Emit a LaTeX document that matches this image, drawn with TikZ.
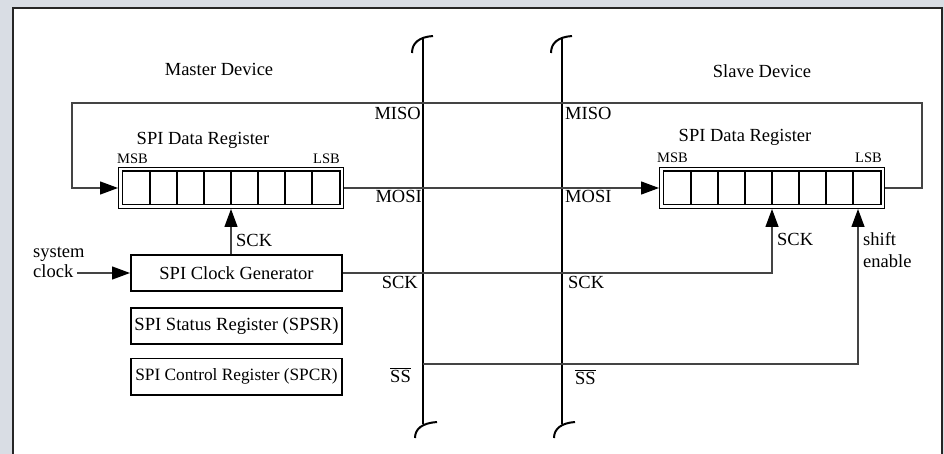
\documentclass[tikz,border=0pt]{standalone}
\usepackage{fontspec}
\setmainfont{Liberation Serif}
\usetikzlibrary{arrows.meta,calc}
\definecolor{bgcol}{HTML}{D9DDE4}
\definecolor{sigcol}{HTML}{444444}
\begin{document}
\begin{tikzpicture}[x=1pt,y=-1pt,
  lbl/.style={inner sep=0pt, font=\fontsize{18.5}{20}\selectfont},
  small/.style={inner sep=0pt, font=\fontsize{14.5}{16}\selectfont},
  box/.style={draw=black, line width=1.6pt, inner sep=0pt, minimum width=211.4pt, minimum height=36.4pt},
  reg/.style={draw=black, line width=1.3pt, double=white, double distance=2.2pt,
              minimum width=221.2pt, minimum height=37.2pt, inner sep=0pt, outer sep=2.4pt},
  sig/.style={draw=sigcol, line width=1.3pt},
  tip/.style={-{Triangle[length=18pt,width=13pt,color=black]}},
  bus/.style={draw=black, line width=2.4pt},
  hook/.style={draw=black, line width=2pt},
  cell/.style={draw=black, line width=1.4pt}
]
\useasboundingbox (0,0) rectangle (944,454);
\clip (0,0) rectangle (944,454);
\fill[bgcol] (0,0) rectangle (944,454);
\draw[fill=white, draw=black!85, line width=1.8pt] (13,8) rectangle (942,470);

% headings
\node[lbl, anchor=base] (mdev) at (219,76) {Master Device};
\node[lbl, anchor=base] (sdev) at (762,78) {Slave Device};

% registers
\node[reg] (mreg) at (231,188) {};
\node[reg] (sreg) at (772,188) {};
\foreach \k in {1,...,7}{
  \draw[cell] ($(mreg.center)+(-108.2+27.05*\k,-16.2)$) -- ++(0,32.4);
  \draw[cell] ($(sreg.center)+(-108.2+27.05*\k,-16.2)$) -- ++(0,32.4);
}
\node[lbl, anchor=base] (mtitle) at (203,145) {SPI Data Register};
\node[lbl, anchor=base] (stitle) at (745,142) {SPI Data Register};
\node[small, anchor=base west] (mmsb) at (117,164) {MSB};
\node[small, anchor=base east] (mlsb) at (340,164) {LSB};
\node[small, anchor=base west] (smsb) at (657,163) {MSB};
\node[small, anchor=base east] (slsb) at (882,163) {LSB};

% master boxes
\node[box, lbl] (clk) at (236.5,273) {SPI Clock Generator};
\node[box, inner sep=0pt, font=\fontsize{18.6}{20}\selectfont] (spsr) at (236.5,326) {SPI Status Register (SPSR)};
\node[box, inner sep=0pt, font=\fontsize{17.3}{19}\selectfont] (spcr) at (236.5,376.5) {SPI Control Register (SPCR)};

% system clock
\node[lbl, anchor=base west] (sys1) at (33,258) {system};
\node[lbl, anchor=base west] (sys2) at (33,277) {clock};
\coordinate (sysin) at (77,273);
\draw[sig, tip] (sysin) -- (clk.west);

% bus lines
\draw[bus] (423,37) -- (423,424);
\draw[hook] (412,53) .. controls (412,43) and (419,37) .. (433,36);
\draw[hook] (415,438) .. controls (415,429) and (422,423) .. (437,422);
\draw[bus] (562,37) -- (562,424);
\draw[hook] (551,53) .. controls (551,43) and (558,37) .. (572,36);
\draw[hook] (554,438) .. controls (554,429) and (561,423) .. (575,422);

% connectors
\coordinate (fbR) at (922,103);
\coordinate (fbL) at (72,103);
\draw[sig, tip] (sreg.east) -| (fbR) -- (fbL) |- (mreg.west);
\draw[sig, tip] (mreg.east) -- (sreg.west);
\draw[sig, tip] (clk.north -| mreg.south) -- (mreg.south);
\draw[sig, tip] (clk.east) -| (sreg.south);
\coordinate (ssL) at (423,364);
\draw[sig, tip] (ssL) -| ([xshift=86pt]sreg.south);

% signal labels
\node[lbl, anchor=base east] (misoL) at (421,120) {MISO};
\node[lbl, anchor=base west] (misoR) at (565,120) {MISO};
\node[lbl, anchor=base east] (mosiL) at (422,203) {MOSI};
\node[lbl, anchor=base west] (mosiR) at (565,203) {MOSI};
\node[lbl, anchor=base east] (sckL) at (418,288) {SCK};
\node[lbl, anchor=base west] (sckR) at (568,288) {SCK};
\node[lbl, anchor=base east] (ssLl) at (411,382) {$\overline{\hbox{SS}}$};
\node[lbl, anchor=base west] (ssRl) at (575,384) {$\overline{\hbox{SS}}$};

\node[lbl, anchor=base west] (msck) at (236,247) {SCK};
\node[lbl, anchor=base west] (ssck) at (777,245) {SCK};
\node[lbl, anchor=base west] (shift1) at (863,245) {shift};
\node[lbl, anchor=base west] (shift2) at (863,267) {enable};
\end{tikzpicture}
\end{document}
